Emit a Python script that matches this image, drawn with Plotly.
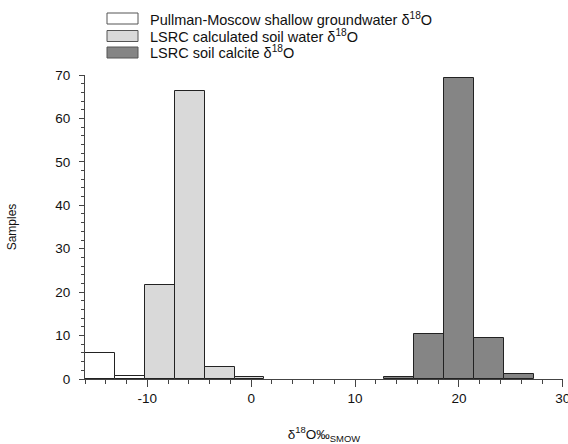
import plotly.graph_objects as go

# Histogram bins (bin centers, permil SMOW) and sample counts
bin_width = 2.88
gw_centers = [-14.56, -11.68]
gw_values = [6.0, 0.6]
soil_centers = [-8.80, -5.92, -3.04, -0.16]
soil_values = [21.6, 66.4, 2.7, 0.5]
calc_centers = [14.24, 17.12, 20.00, 22.88, 25.76]
calc_values = [0.4, 10.3, 69.3, 9.4, 1.2]

series_names = [
    "Pullman-Moscow shallow groundwater δ<sup>18</sup>O",
    "LSRC calculated soil water δ<sup>18</sup>O",
    "LSRC soil calcite δ<sup>18</sup>O",
]
fills = ["#ffffff", "#d9d9d9", "#858585"]

x_tickvals = [-10, 0, 10, 20, 30]
x_ticktext = ["-10", "0", "10", "20", "30"]
y_tickvals = [0, 10, 20, 30, 40, 50, 60, 70]

FONT = "Liberation Sans, Arial, Helvetica, sans-serif"

fig = go.Figure()
for cx, vals, name, col in zip(
    [gw_centers, soil_centers, calc_centers],
    [gw_values, soil_values, calc_values],
    series_names, fills,
):
    fig.add_trace(go.Bar(
        x=cx, y=vals, width=bin_width, name=name,
        marker=dict(color=col, line=dict(color="#222222", width=1)),
        showlegend=False,
    ))

# Legend drawn as swatches + text (page pixel coords -> paper coords)
PL, PT, PW, PH = 85, 75, 478, 304
def px(x):
    return (x - PL) / PW
def py(y):
    return (PT + PH - y) / PH

leg_y = [18.5, 36, 52.5]
for i, (name, col) in enumerate(zip(series_names, fills)):
    y0 = leg_y[i]
    fig.add_shape(type="rect", xref="paper", yref="paper",
                  x0=px(107), x1=px(138), y0=py(y0 + 5.5), y1=py(y0 - 5.5),
                  fillcolor=col, line=dict(color="#555555", width=1))
    fig.add_annotation(xref="paper", yref="paper", x=px(148), y=py(y0),
                       text=name, showarrow=False, xanchor="left", yanchor="middle",
                       font=dict(family=FONT, size=14.5, color="#111111"))

fig.update_layout(
    width=568, height=444,
    margin=dict(l=PL, r=568 - PL - PW, t=PT, b=444 - PT - PH),
    plot_bgcolor="white", paper_bgcolor="white",
    bargap=0,
    font=dict(family=FONT, size=13, color="#111111"),
)
fig.update_xaxes(
    range=[-16, 30.02], showgrid=False, zeroline=False, automargin=False,
    showline=True, linecolor="#444444", linewidth=1,
    tickvals=x_tickvals, ticktext=x_ticktext, ticklabeloverflow="allow",
    ticks="outside", ticklen=7, tickcolor="#444444",
    minor=dict(dtick=2, ticks="outside", ticklen=4, tickcolor="#444444", showgrid=False),
    tickfont=dict(size=13.5),
    title=dict(text="δ<sup>18</sup>O‰<sub>SMOW</sub>", font=dict(size=13.5), standoff=24),
)
fig.update_yaxes(
    range=[0, 70], showgrid=False, zeroline=False, automargin=False,
    showline=True, linecolor="#444444", linewidth=1,
    tickvals=y_tickvals,
    ticks="outside", ticklen=5, tickcolor="#444444",
    minor=dict(dtick=2, ticks="outside", ticklen=3, tickcolor="#444444", showgrid=False),
    tickfont=dict(size=13.5), ticklabelstandoff=6,
    title=dict(text="Samples", font=dict(size=12), standoff=36),
)

fig.write_html(
    "out.html",
    config={"displayModeBar": False},
    post_script="document.body.style.margin='0';document.body.style.overflow='hidden';",
)
